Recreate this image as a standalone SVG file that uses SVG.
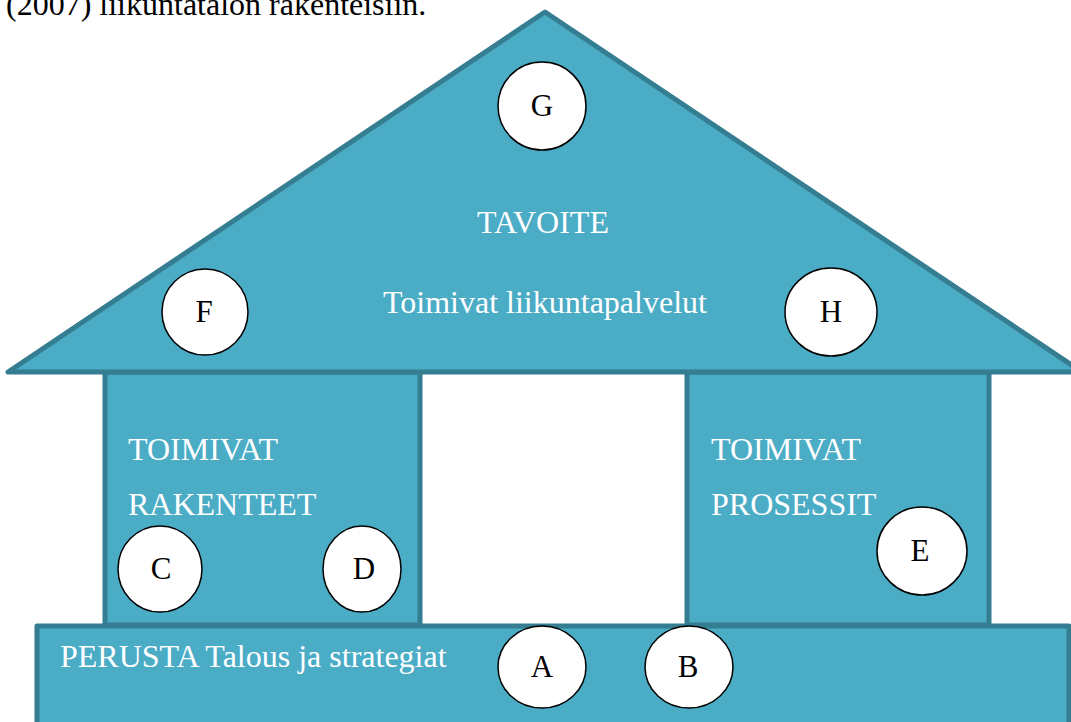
<svg xmlns="http://www.w3.org/2000/svg" width="1071" height="722" viewBox="0 0 1071 722">
<style>
.part{fill:#4BACC6;stroke:#357D91;stroke-width:5;stroke-linejoin:round}
.lbl{font-family:"Liberation Serif","Times New Roman",serif;font-size:32px;fill:#FFFFFF}
.circ{fill:#FFFFFF;stroke:#000000;stroke-width:1.5}
.ct{font-family:"Liberation Serif","Times New Roman",serif;font-size:31px;fill:#000000;text-anchor:middle}
.cap{font-family:"Liberation Serif","Times New Roman",serif;font-size:32px;fill:#000000}
</style>
<rect width="1071" height="722" fill="#FFFFFF"/>
<text class="cap" x="6" y="15">(2007) liikuntatalon rakenteisiin.</text>
<g id="pillar-left"><rect class="part" x="105" y="372" width="315" height="253"/></g>
<g id="pillar-right"><rect class="part" x="687" y="372" width="302" height="253"/></g>
<g id="roof"><polygon class="part" points="8,372 545,12 1082,372"/></g>
<g id="foundation"><rect class="part" x="37" y="626" width="1032" height="110"/></g>
<g id="labels">
<text class="lbl" x="477" y="233">TAVOITE</text>
<text class="lbl" x="383" y="313">Toimivat liikuntapalvelut</text>
<text class="lbl" x="128" y="460">TOIMIVAT</text>
<text class="lbl" x="128" y="515">RAKENTEET</text>
<text class="lbl" x="711" y="460">TOIMIVAT</text>
<text class="lbl" x="711" y="515">PROSESSIT</text>
<text class="lbl" x="60" y="667">PERUSTA Talous ja strategiat</text>
</g>
<g id="node-G"><ellipse class="circ" cx="542" cy="106" rx="44" ry="44"/><text class="ct" x="542" y="116">G</text></g>
<g id="node-F"><ellipse class="circ" cx="205" cy="312" rx="43" ry="43"/><text class="ct" x="204" y="322">F</text></g>
<g id="node-H"><ellipse class="circ" cx="831" cy="312" rx="46" ry="44"/><text class="ct" x="831" y="322">H</text></g>
<g id="node-C"><ellipse class="circ" cx="160" cy="569" rx="42" ry="43"/><text class="ct" x="161" y="579">C</text></g>
<g id="node-D"><ellipse class="circ" cx="362" cy="569" rx="39" ry="43"/><text class="ct" x="364" y="579">D</text></g>
<g id="node-E"><ellipse class="circ" cx="922" cy="551" rx="45" ry="44"/><text class="ct" x="920" y="561">E</text></g>
<g id="node-A"><ellipse class="circ" cx="542" cy="667" rx="44" ry="41"/><text class="ct" x="542" y="677">A</text></g>
<g id="node-B"><ellipse class="circ" cx="689" cy="667" rx="44" ry="41"/><text class="ct" x="688" y="677">B</text></g>
<g id="connectors"></g>
</svg>
